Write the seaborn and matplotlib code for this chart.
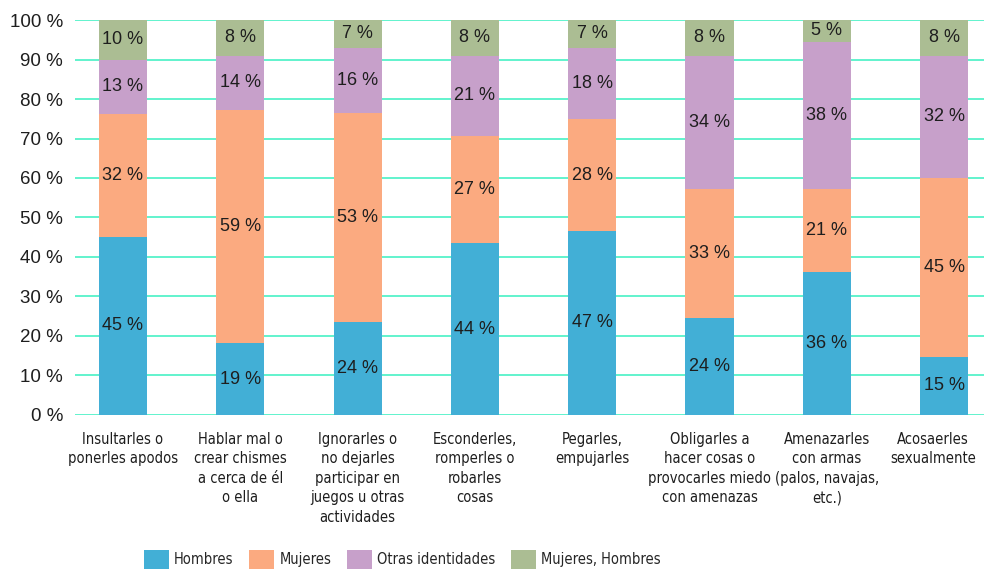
import matplotlib
matplotlib.use("Agg")
import matplotlib.pyplot as plt
import matplotlib.transforms as mtransforms
import numpy as np
import pandas as pd
import seaborn as sns
from matplotlib.patches import Patch

# ---------------------------------------------------------------------------
# DATA (segment heights, printed labels as shown)
# ---------------------------------------------------------------------------
categories = [
    "Insultarles o\nponerles apodos",
    "Hablar mal o\ncrear chismes\na cerca de él\no ella",
    "Ignorarles o\nno dejarles\nparticipar en\njuegos u otras\nactividades",
    "Esconderles,\nromperles o\nrobarles\ncosas",
    "Pegarles,\nempujarles",
    "Obligarles a\nhacer cosas o\nprovocarles miedo\ncon amenazas",
    "Amenazarles\ncon armas\n(palos, navajas,\netc.)",
    "Acosaerles\nsexualmente",
]

series_names = ["Hombres", "Mujeres", "Otras identidades", "Mujeres, Hombres"]
series_colors = ["#42AFD6", "#FBAA80", "#C7A0CA", "#ABBD93"]

hombres = [45.1, 18.2, 23.6, 43.5, 46.6, 24.6, 36.3, 14.7]
mujeres = [31.2, 59.1, 52.9, 27.1, 28.3, 32.6, 20.9, 45.4]
otras = [13.6, 13.7, 16.5, 20.4, 18.1, 33.8, 37.3, 30.9]
mujeres_hombres = [10.1, 9.0, 7.0, 9.0, 7.0, 9.0, 5.5, 9.0]

hombres_lbl = [45, 19, 24, 44, 47, 24, 36, 15]
mujeres_lbl = [32, 59, 53, 27, 28, 33, 21, 45]
otras_lbl = [13, 14, 16, 21, 18, 34, 38, 32]
mujeres_hombres_lbl = [10, 8, 7, 8, 7, 8, 5, 8]

y_ticks = [0, 10, 20, 30, 40, 50, 60, 70, 80, 90, 100]

# ---------------------------------------------------------------------------
# STYLE
# ---------------------------------------------------------------------------
sns.set_style("white")
plt.rcParams["font.family"] = ["Liberation Sans", "DejaVu Sans"]
COND = {"family": "DejaVu Sans", "stretch": "condensed"}
GRID_COLOR = "#55F2C9"
TEXT_COLOR = "#1E1E1E"

fig = plt.figure(figsize=(9.84, 5.75), dpi=100)
ax = fig.add_axes([0.0762, 0.2783, 0.9238, 0.6869])

values = [hombres, mujeres, otras, mujeres_hombres]
labels = [hombres_lbl, mujeres_lbl, otras_lbl, mujeres_hombres_lbl]

bottom = np.zeros(len(categories))
for name, color, vals, lbls in zip(series_names, series_colors, values, labels):
    df = pd.DataFrame({"cat": categories, "val": vals})
    sns.barplot(
        data=df, x="cat", y="val", order=categories, color=color,
        width=0.41, errorbar=None, bottom=bottom, ax=ax,
        saturation=1, linewidth=0, zorder=2,
    )
    for i, (v, l) in enumerate(zip(vals, lbls)):
        ax.text(i, bottom[i] + v / 2, f"{l} %", ha="center", va="center",
                fontsize=13, color=TEXT_COLOR, zorder=3)
    bottom = bottom + np.array(vals)

ax.set_xlim(-0.409, 7.34)
ax.set_ylim(0, 100)
ax.set_yticks(y_ticks)
ax.set_yticklabels([f"{t} %" for t in y_ticks], fontsize=13.5, color=TEXT_COLOR)
ax.set_xticks(range(len(categories)))
ax.set_xticklabels(categories, fontsize=10.5, color=TEXT_COLOR,
                   linespacing=1.38, va="top", **COND)
ax.tick_params(axis="y", length=0, pad=8.5)
ax.tick_params(axis="x", length=0, pad=12)

# last label sits a bit to the left so it stays inside the figure
last = ax.get_xticklabels()[-1]
last.set_transform(last.get_transform()
                   + mtransforms.ScaledTranslation(-8 / 72, 0, fig.dpi_scale_trans))

ax.set_xlabel("")
ax.set_ylabel("")

ax.grid(axis="y", color=GRID_COLOR, linewidth=1.3, zorder=0)
ax.grid(axis="x", visible=False)
ax.set_axisbelow(True)
sns.despine(ax=ax, left=True, bottom=True)

handles = [Patch(facecolor=c, edgecolor="none", label=n)
           for n, c in zip(series_names, series_colors)]
fig.legend(
    handles=handles, loc="center", bbox_to_anchor=(0.409, 0.027),
    ncol=4, frameon=False, handlelength=1.7, handleheight=1.7,
    handletextpad=0.35, columnspacing=1.1,
    prop={"size": 10.5, **COND},
)

fig.savefig("out.png", dpi=100)
